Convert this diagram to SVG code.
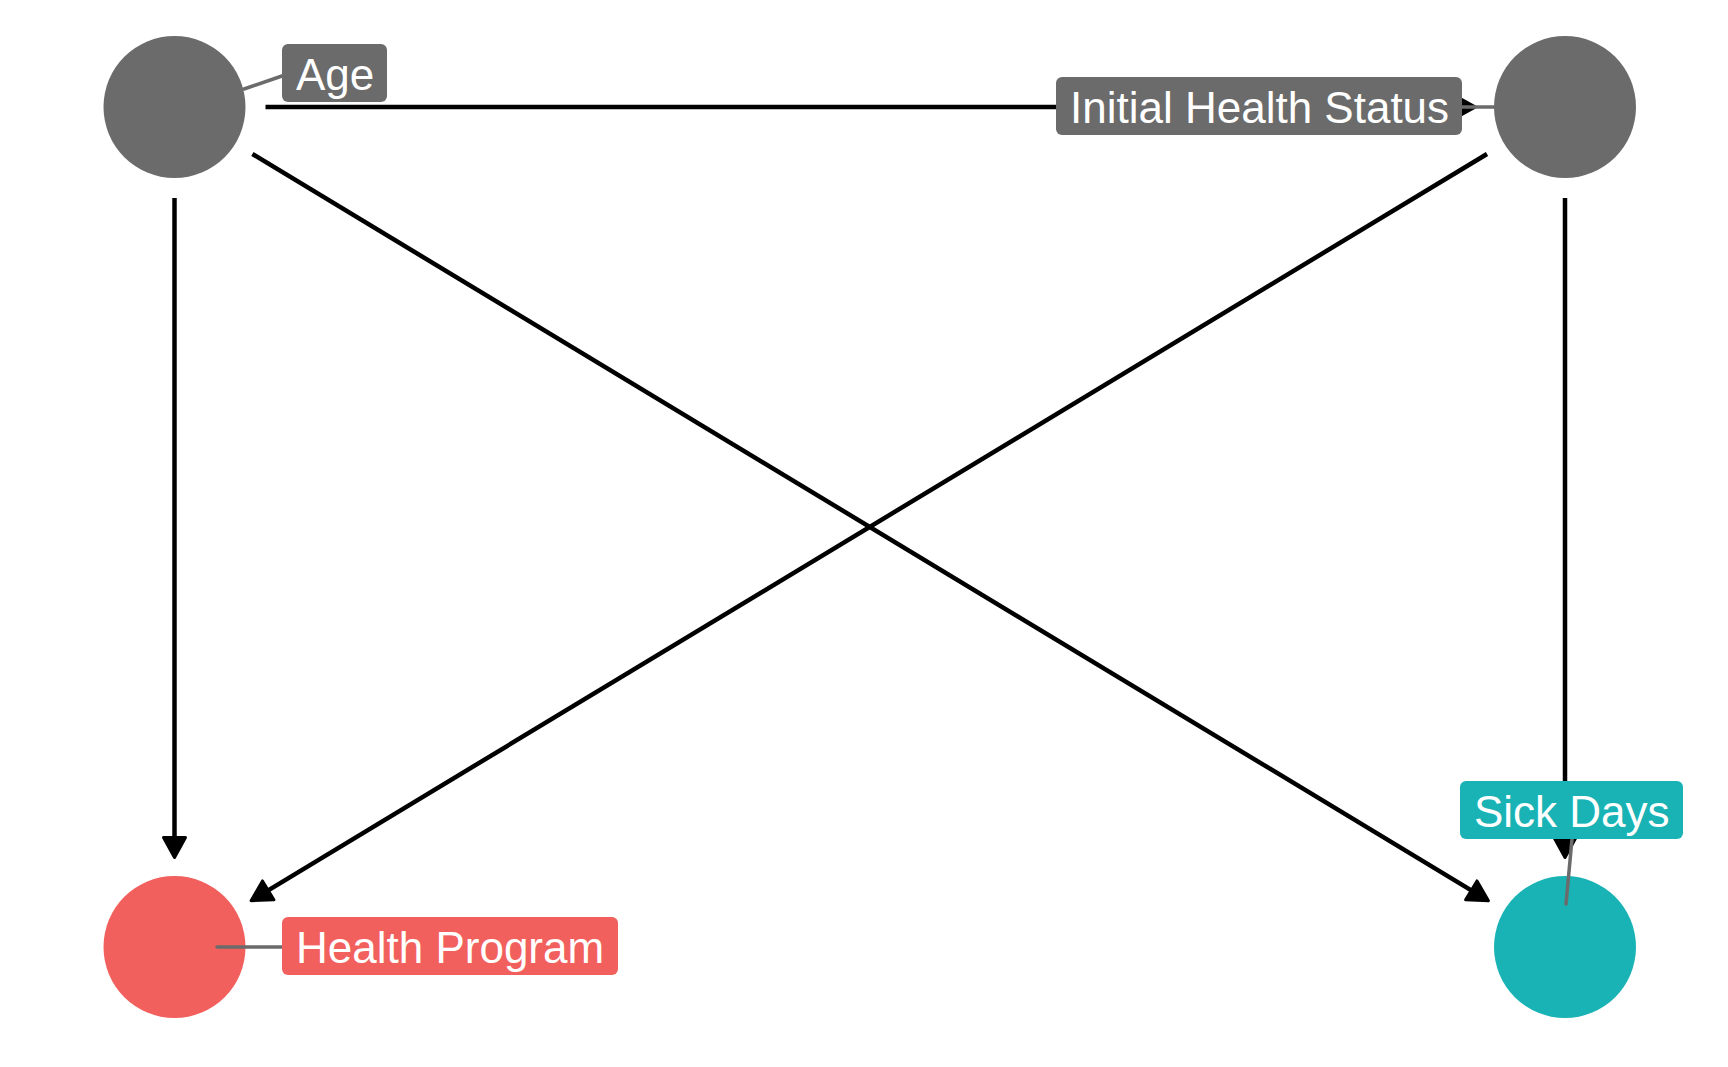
<svg xmlns="http://www.w3.org/2000/svg" width="1728" height="1067" viewBox="0 0 1728 1067">
<style>
.edge{stroke:#000;stroke-width:4.5;fill:none;marker-end:url(#arr)}
.seg{stroke:#6b6b6b;stroke-width:3.5;stroke-linecap:round}
.lbl{font-family:"Liberation Sans",Arial,sans-serif;font-size:44px;fill:#fff}
.gray{fill:#6b6b6b}
.red{fill:#f2605e}
.teal{fill:#19b3b6}
</style>
<defs>
<marker id="arr" markerUnits="userSpaceOnUse" viewBox="-3 -14 26 28" markerWidth="26" markerHeight="28" refX="14" refY="0" orient="auto">
<path d="M0,-11 L20,0 L0,11 Z" fill="#000" stroke="#000" stroke-width="3" stroke-linejoin="round"/>
</marker>
</defs>
<rect width="1728" height="1067" fill="#fff"/>
<g id="connectors">
<line class="edge" x1="265.5" y1="107" x2="1469.5" y2="107"/>
<line class="edge" x1="174.5" y1="198" x2="174.5" y2="851.5"/>
<line class="edge" x1="1565" y1="198" x2="1565" y2="851.5"/>
<line class="edge" x1="252.4" y1="154" x2="1483.3" y2="897.6"/>
<line class="edge" x1="1487" y1="154" x2="256.2" y2="897.6"/>
</g>
<g id="node-age"><circle class="gray" cx="174.5" cy="107" r="71"/></g>
<g id="node-ihs"><circle class="gray" cx="1565" cy="107" r="71"/></g>
<g id="node-hp"><circle class="red" cx="174.5" cy="947" r="71"/></g>
<g id="node-sd"><circle class="teal" cx="1565" cy="947" r="71"/></g>
<g id="label-age">
<line class="seg" x1="244" y1="89" x2="282" y2="76"/>
<rect class="gray" x="282" y="44" width="105" height="58" rx="6"/>
<text class="lbl" x="296" y="90">Age</text>
</g>
<g id="label-ihs">
<line class="seg" x1="1462" y1="107" x2="1494" y2="107"/>
<rect class="gray" x="1056" y="77" width="406" height="58" rx="6"/>
<text class="lbl" x="1070" y="123">Initial Health Status</text>
</g>
<g id="label-hp">
<line class="seg" x1="217" y1="947" x2="282" y2="947"/>
<rect class="red" x="282" y="917" width="336" height="58" rx="6"/>
<text class="lbl" x="296" y="963">Health Program</text>
</g>
<g id="label-sd">
<line class="seg" x1="1566" y1="904" x2="1572" y2="839"/>
<rect class="teal" x="1460" y="781" width="223" height="58" rx="6"/>
<text class="lbl" x="1474" y="827">Sick Days</text>
</g>
</svg>
